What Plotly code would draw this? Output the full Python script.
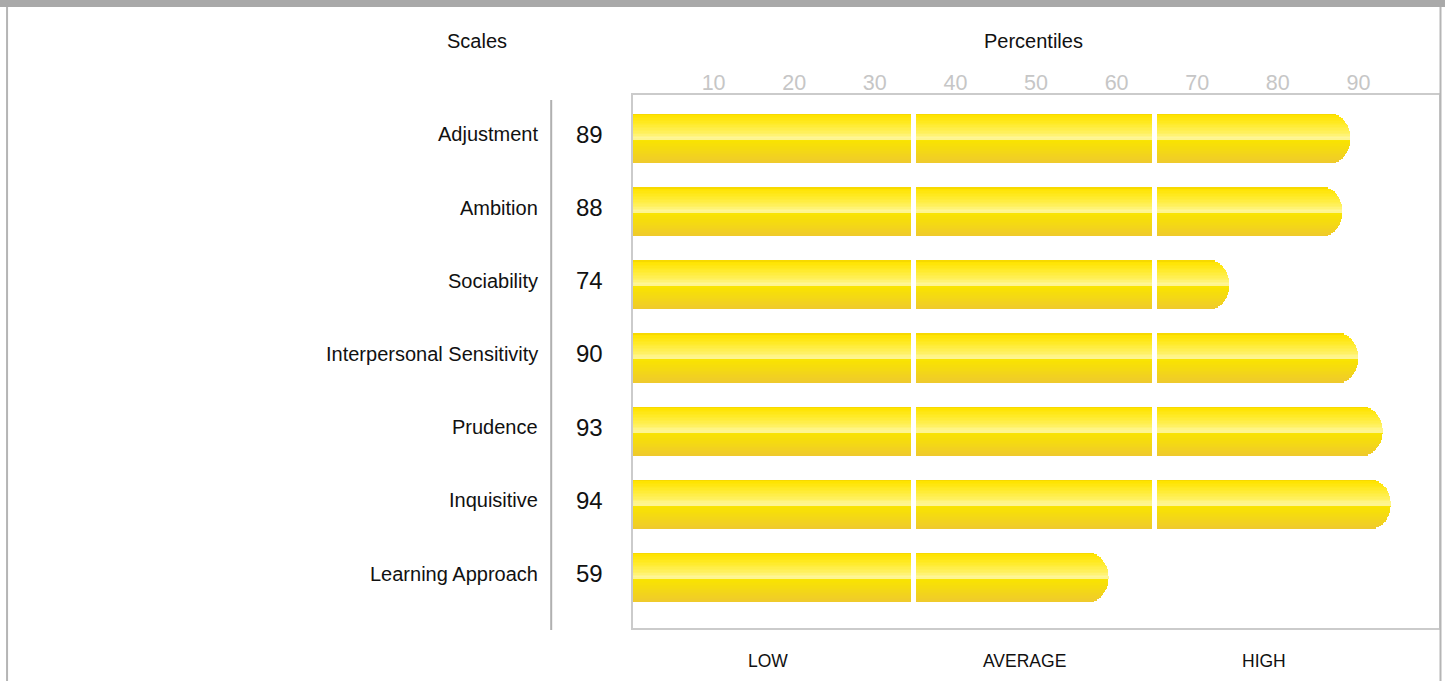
import math
import plotly.graph_objects as go

# ---------------- data ----------------
SCALES = ["Adjustment", "Ambition", "Sociability", "Interpersonal Sensitivity",
          "Prudence", "Inquisitive", "Learning Approach"]
PERCENTILES = [89, 88, 74, 90, 93, 94, 59]
TICK_VALUES = [10, 20, 30, 40, 50, 60, 70, 80, 90]
BANDS = ["LOW", "AVERAGE", "HIGH"]
BAND_BREAKS = [34.8, 64.75]          # where the bars are split into bands
BAND_LABEL_POS = [16.7, 48.6, 78.3]  # x positions of the band captions

# ---------------- style ----------------
W, H = 1445, 681
ML, MR, MT, MB = 633, 4, 95, 53
PW, PH = W - ML - MR, H - MT - MB
FONT = "Liberation Sans, Arial, sans-serif"
BAR_H = 0.67
GAP = 0.3
CAP_R = 2.4         # end cap depth in axis units
N_STRIPS = 34
STOPS = [(0.00, "#F2D200"), (0.04, "#FFE400"), (0.20, "#FFEA28"),
         (0.40, "#FFF164"), (0.51, "#FFF8A6"), (0.545, "#F9E300"),
         (0.75, "#F4D914"), (1.00, "#EFC92E")]


def px_x(p):
    return (p - ML) / PW


def px_y(q):
    return (H - MB - q) / PH


def hex2rgb(h):
    h = h.lstrip("#")
    return [int(h[i:i + 2], 16) for i in (0, 2, 4)]


def grad(f):
    for (f0, c0), (f1, c1) in zip(STOPS[:-1], STOPS[1:]):
        if f0 <= f <= f1:
            a = (f - f0) / (f1 - f0) if f1 > f0 else 0
            r0, r1 = hex2rgb(c0), hex2rgb(c1)
            r = [round(r0[k] + (r1[k] - r0[k]) * a) for k in range(3)]
            return "rgb(%d,%d,%d)" % tuple(r)
    return STOPS[-1][1]


fig = go.Figure()

rows = list(range(len(SCALES)))
starts = [0] + [b + GAP for b in BAND_BREAKS]
ends = [b - GAP for b in BAND_BREAKS] + [100]

h = BAR_H / N_STRIPS
# draw strips from outer edges toward the centre so overlaps hide seams
order = []
lo, hi = 0, N_STRIPS - 1
while lo <= hi:
    order.append(lo)
    if hi != lo:
        order.append(hi)
    lo += 1
    hi -= 1

for i in order:
    f = (i + 0.5) / N_STRIPS
    t = 2 * f - 1
    short = CAP_R * (1 - math.sqrt(max(0.0, 1 - t * t)))
    ys, xs, bases = [], [], []
    for row, v in zip(rows, PERCENTILES):
        for s, e in zip(starts, ends):
            if v <= s:
                break
            end = e
            if v <= e:
                end = v - short
            ys.append(row)
            bases.append(s)
            xs.append(end - s)
    off = -BAR_H / 2 + i * h
    wid = h
    ext = h * 0.6
    if t < 0 and i < N_STRIPS - 1:
        wid = h + ext
    elif t > 0 and i > 0:
        off -= ext
        wid = h + ext
    fig.add_trace(go.Bar(
        orientation="h", y=ys, x=xs, base=bases,
        width=wid, offset=off,
        marker=dict(color=grad(f), line=dict(width=0)),
        hoverinfo="skip", showlegend=False,
    ))

annotations = []
for row, name, v in zip(rows, SCALES, PERCENTILES):
    annotations.append(dict(
        xref="paper", yref="y", x=px_x(540), y=row, yshift=4,
        text=name, showarrow=False, xanchor="right",
        font=dict(family=FONT, size=20, color="#111111")))
    annotations.append(dict(
        xref="paper", yref="y", x=px_x(589), y=row, yshift=4,
        text=str(v), showarrow=False, xanchor="center",
        font=dict(family=FONT, size=24, color="#111111")))

for lab, xp in zip(BANDS, BAND_LABEL_POS):
    annotations.append(dict(
        xref="x", yref="paper", x=xp, y=px_y(661), text=lab,
        showarrow=False, xanchor="center", yanchor="middle",
        font=dict(family=FONT, size=17.5, color="#111111")))

annotations.append(dict(
    xref="paper", yref="paper", x=px_x(477), y=px_y(41), text="Scales",
    showarrow=False, xanchor="center", yanchor="middle",
    font=dict(family=FONT, size=20, color="#111111")))
annotations.append(dict(
    xref="paper", yref="paper", x=px_x(1034), y=px_y(41), text="Percentiles",
    showarrow=False, xanchor="center", yanchor="middle",
    font=dict(family=FONT, size=20, color="#111111")))

shapes = [
    # top grey band
    dict(type="rect", xref="paper", yref="paper",
         x0=px_x(-2), x1=px_x(W + 2), y0=px_y(7), y1=px_y(-2),
         fillcolor="#a9a9a9", line=dict(width=0), layer="above"),
    # left page border
    dict(type="line", xref="paper", yref="paper",
         x0=px_x(5.5), x1=px_x(5.5), y0=px_y(7), y1=px_y(H + 2),
         line=dict(color="#b5b5b5", width=2)),
    # right page border
    dict(type="line", xref="paper", yref="paper",
         x0=px_x(1442.5), x1=px_x(1442.5), y0=px_y(7), y1=px_y(H + 2),
         line=dict(color="#b5b5b5", width=2)),
    # divider between scale names and values
    dict(type="line", xref="paper", yref="paper",
         x0=px_x(551), x1=px_x(551), y0=px_y(100), y1=px_y(630),
         line=dict(color="#b0b0b0", width=2)),
]

fig.update_layout(
    width=W, height=H,
    margin=dict(l=ML, r=MR, t=MT, b=MB, pad=0),
    paper_bgcolor="white", plot_bgcolor="white",
    barmode="overlay", bargap=0,
    showlegend=False, hovermode=False,
    font=dict(family=FONT),
    annotations=annotations, shapes=shapes,
    xaxis=dict(range=[0, 100], side="top", tickvals=TICK_VALUES,
               ticktext=[str(v) for v in TICK_VALUES],
               tickfont=dict(family=FONT, size=21.5, color="#c6c6c6"),
               ticklabelstandoff=-6,
               showgrid=False, zeroline=False, ticks="",
               showline=True, mirror=True, linecolor="#cbcbcb", linewidth=2,
               fixedrange=True),
    yaxis=dict(range=[6.69, -0.594], showticklabels=False, showgrid=False,
               zeroline=False, ticks="",
               showline=True, mirror=True, linecolor="#cbcbcb", linewidth=2,
               fixedrange=True),
)

fig.write_html("out.html", config={"displayModeBar": False},
               post_script="document.body.style.margin='0px';"
                           "document.body.style.overflow='hidden';")
